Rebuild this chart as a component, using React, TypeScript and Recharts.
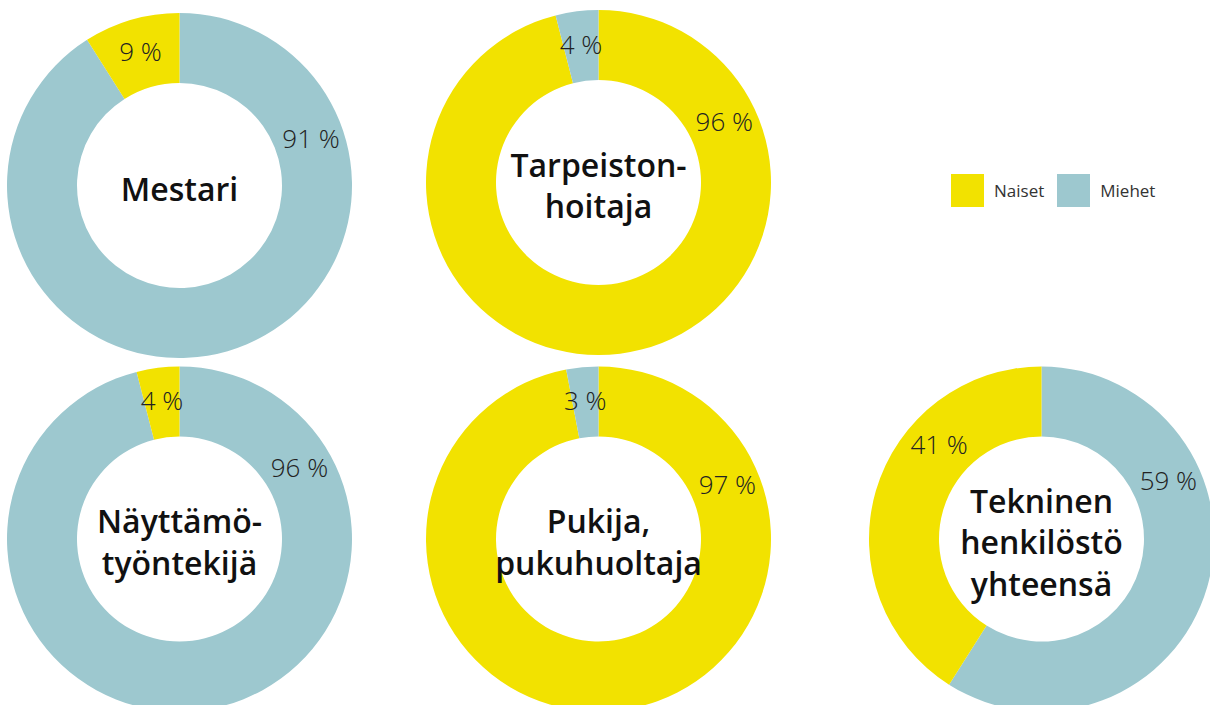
import { PieChart, Pie, Cell, Legend } from 'recharts';

const titles = [
  ['Mestari'],
  ['Tarpeiston-', 'hoitaja'],
  ['Näyttämö-', 'työntekijä'],
  ['Pukija,', 'pukuhuoltaja'],
  ['Tekninen', 'henkilöstö', 'yhteensä'],
];
const seriesNames = ['Naiset', 'Miehet'];
const naiset = [9, 96, 4, 97, 41];
const miehet = [91, 4, 96, 3, 59];

const COLORS: Record<string, string> = { Naiset: '#F2E200', Miehet: '#9DC8CF' };
const FONT = '"Open Sans", Lato, sans-serif';

// layout: donut centres and where the big-slice labels sit (degrees clockwise from 12 o'clock)
const centres = [
  [179.5, 185.5],
  [598.5, 182.5],
  [179.5, 539],
  [598.5, 539],
  [1041.5, 539],
];
const labelTurns: (number | null)[][] = [
  [70, null],
  [64, null],
  [59, null],
  [67, null],
  [65, -47],
];

const INNER = 102.5;
const OUTER = 172.5;
const LABEL_R = 140;

function makeData(i: number) {
  const rows = [
    { name: seriesNames[0], value: naiset[i] },
    { name: seriesNames[1], value: miehet[i] },
  ];
  // larger share runs clockwise from the top
  return rows.sort((a, b) => b.value - a.value);
}

function renderLabel(chartIdx: number) {
  return (props: any) => {
    const { cx, cy, midAngle, index, value } = props;
    const turn = labelTurns[chartIdx][index];
    // recharts angles: counter-clockwise from 3 o'clock
    const ang = turn == null ? midAngle : 90 - turn;
    const rad = (ang * Math.PI) / 180;
    const x = cx + LABEL_R * Math.cos(rad);
    const y = cy - LABEL_R * Math.sin(rad);
    const lines = titles[chartIdx];
    const lh = 41.5;
    const base = cy + 15 - ((lines.length - 1) * lh) / 2;
    return (
      <g>
        <text
          x={x}
          y={y}
          textAnchor="middle"
          dominantBaseline="central"
          fill="#222"
          fontFamily={FONT}
          fontWeight={300}
          fontSize={26}
        >
          {`${value} %`}
        </text>
        {index === 0 &&
          lines.map((ln, k) => (
            <text
              key={k}
              x={cx}
              y={base + k * lh}
              textAnchor="middle"
              fill="#111"
              fontFamily={FONT}
              fontWeight={600}
              fontSize={32}
            >
              {ln}
            </text>
          ))}
      </g>
    );
  };
}

function LegendBox() {
  return (
    <div style={{ display: 'flex', alignItems: 'center', fontFamily: FONT, fontSize: 17, color: '#333' }}>
      {seriesNames.map((n, i) => (
        <div key={n} style={{ display: 'flex', alignItems: 'center', marginRight: i === 0 ? 13 : 0 }}>
          <div style={{ width: 33, height: 33, background: COLORS[n], marginRight: 10 }} />
          <span>{n}</span>
        </div>
      ))}
    </div>
  );
}

export default function App() {
  return (
    <div style={{ position: 'absolute', left: 0, top: 0, width: 1210, height: 705, overflow: 'hidden', background: '#fff' }}>
      <PieChart width={1210} height={705} margin={{ top: 0, right: 0, bottom: 0, left: 0 }}>
        {titles.map((t, i) => (
          <Pie
            key={i}
            data={makeData(i)}
            dataKey="value"
            nameKey="name"
            cx={centres[i][0]}
            cy={centres[i][1]}
            innerRadius={INNER}
            outerRadius={OUTER}
            startAngle={90}
            endAngle={-270}
            stroke="none"
            labelLine={false}
            label={renderLabel(i)}
            isAnimationActive={false}
          >
            {makeData(i).map((d) => (
              <Cell key={d.name} fill={COLORS[d.name]} />
            ))}
          </Pie>
        ))}
        <Legend
          content={<LegendBox />}
          layout="horizontal"
          verticalAlign="middle"
          align="center"
          wrapperStyle={{ left: 951, top: 174, width: 240 }}
        />
      </PieChart>
    </div>
  );
}
